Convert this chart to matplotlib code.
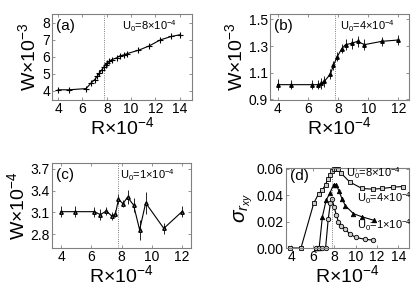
import matplotlib
matplotlib.use('Agg')
import matplotlib.pyplot as plt

plt.rcParams['font.family'] = ['Liberation Sans', 'DejaVu Sans']
plt.rcParams['mathtext.fontset'] = 'custom'
plt.rcParams['mathtext.rm'] = 'Liberation Sans'
plt.rcParams['mathtext.it'] = 'Liberation Sans:italic'

# panel (a): U0 = 8e-4
ra = [4.0, 4.9, 6.3, 6.7, 7.0, 7.2, 7.4, 7.6, 7.75, 7.9, 8.05, 8.2, 8.4, 8.8, 9.1, 9.4, 9.7, 10.6, 11.5, 12.4, 13.3, 14.0]
wa = [4.05, 4.05, 4.12, 4.44, 4.64, 4.83, 5.03, 5.23, 5.38, 5.52, 5.62, 5.72, 5.82, 5.92, 6.05, 6.1, 6.18, 6.37, 6.63, 6.98, 7.18, 7.28]
ea = [0.1] * len(ra)

# panel (b): U0 = 4e-4
rb = [4.0, 4.9, 6.3, 6.7, 6.9, 7.1, 7.5, 7.7, 7.95, 8.25, 8.5, 8.9, 9.3, 9.75, 10.9, 12.0]
wb = [1.01, 1.01, 1.01, 1.01, 1.02, 1.035, 1.09, 1.155, 1.22, 1.28, 1.31, 1.32, 1.335, 1.31, 1.335, 1.345]
eb = [0.04, 0.035, 0.035, 0.035, 0.04, 0.04, 0.035, 0.035, 0.035, 0.035, 0.04, 0.04, 0.04, 0.04, 0.035, 0.035]

# panel (c): U0 = 1e-4
rc = [4.0, 4.9, 6.2, 6.6, 7.0, 7.35, 7.6, 7.8, 8.1, 8.4, 8.8, 9.2, 9.6, 10.8, 12.0]
wc = [3.11, 3.11, 3.11, 3.07, 3.12, 3.05, 3.08, 3.28, 3.22, 3.31, 3.20, 2.86, 3.23, 2.88, 3.11]
ec = [0.08, 0.08, 0.07, 0.07, 0.05, 0.05, 0.05, 0.07, 0.05, 0.1, 0.1, 0.14, 0.15, 0.08, 0.08]

# panel (d): sigma_rxy for the three U0
rd8 = [3.9, 4.9, 6.1, 6.55, 6.9, 7.2, 7.4, 7.65, 7.8, 8.0, 8.2, 8.4, 8.6, 9.45, 10.6, 11.6, 12.5, 13.5, 14.4]
sd8 = [0, 0, 0.034, 0.041, 0.044, 0.048, 0.052, 0.055, 0.058, 0.060, 0.060, 0.060, 0.057, 0.050, 0.045, 0.0445, 0.045, 0.046, 0.0465]
rd4 = [6.3, 6.6, 6.9, 7.25, 7.6, 7.95, 8.2, 8.45, 8.75, 9.05, 9.8, 10.6, 11.7]
sd4 = [0, 0, 0.0236, 0.036, 0.0415, 0.048, 0.048, 0.043, 0.037, 0.032, 0.026, 0.0236, 0.021]
rd1 = [6.3, 6.6, 6.9, 7.2, 7.45, 7.65, 7.8, 8.0, 8.2, 8.4, 8.65, 9.05, 9.45, 10.05, 10.85, 11.6]
sd1 = [0, 0, 0, 0, 0.022, 0.034, 0.037, 0.031, 0.025, 0.020, 0.017, 0.0145, 0.0105, 0.008, 0.0066, 0.006]

R_crit = 7.8
W, H = 415, 291


def px_axes(fig, l, t, r, b):
    return fig.add_axes([l / W, 1 - b / H, (r - l) / W, (b - t) / H])


def style(ax):
    for s in ax.spines.values():
        s.set_color('#808080')
        s.set_linewidth(0.8)
    ax.tick_params(direction='in', length=2.5, width=0.6, color='#808080',
                   top=True, right=True, labelsize=10, pad=1.5)
    ax.axvline(R_crit, color='#555555', lw=0.6, ls=':')


fig = plt.figure(figsize=(W / 100, H / 100), dpi=100)

ax = px_axes(fig, 52, 14, 192, 100)
ax.errorbar(ra, wa, yerr=ea, color='k', lw=0.8, elinewidth=0.6, capsize=0,
            marker='+', ms=4, mew=0.8)
ax.set_xlim(3.5, 15)
ax.set_ylim(3.45, 8.5)
ax.set_xticks([4, 6, 8, 10, 12, 14])
ax.set_yticks([4, 5, 6, 7, 8])
ax.set_xlabel(r'R$\times$10$^{-4}$', fontsize=14, labelpad=0)
ax.set_ylabel(r'W$\times$10$^{-3}$', fontsize=14, labelpad=2)
ax.text(0.03, 0.86, '(a)', transform=ax.transAxes, fontsize=11, va='center')
ax.text(0.5, 0.86, r'U$_0$=8$\times$10$^{-4}$', transform=ax.transAxes, fontsize=8, va='center')
style(ax)

ax = px_axes(fig, 270, 14, 409, 100)
ax.errorbar(rb, wb, yerr=eb, color='k', lw=0.8, elinewidth=0.6, capsize=0,
            marker='^', ms=2.5)
ax.set_xlim(3.5, 12.7)
ax.set_ylim(0.895, 1.54)
ax.set_xticks([4, 6, 8, 10, 12])
ax.set_yticks([0.9, 1.1, 1.3, 1.5])
ax.set_xlabel(r'R$\times$10$^{-4}$', fontsize=14, labelpad=0)
ax.set_ylabel(r'W$\times$10$^{-3}$', fontsize=14, labelpad=2)
ax.text(0.03, 0.86, '(b)', transform=ax.transAxes, fontsize=11, va='center')
ax.text(0.5, 0.86, r'U$_0$=4$\times$10$^{-4}$', transform=ax.transAxes, fontsize=8, va='center')
style(ax)

ax = px_axes(fig, 52, 163, 191, 248)
ax.errorbar(rc, wc, yerr=ec, color='k', lw=0.8, elinewidth=0.6, capsize=0,
            marker='^', ms=2.5, mfc='#bbbbbb')
ax.set_xlim(3.4, 12.6)
ax.set_ylim(2.61, 3.78)
ax.set_xticks([4, 6, 8, 10, 12])
ax.set_yticks([2.8, 3.1, 3.4, 3.7])
ax.set_xlabel(r'R$\times$10$^{-4}$', fontsize=14, labelpad=0)
ax.set_ylabel(r'W$\times$10$^{-4}$', fontsize=14, labelpad=2)
ax.text(0.03, 0.86, '(c)', transform=ax.transAxes, fontsize=11, va='center')
ax.text(0.49, 0.86, r'U$_0$=1$\times$10$^{-4}$', transform=ax.transAxes, fontsize=8, va='center')
style(ax)

ax = px_axes(fig, 286, 168, 409, 248)
ax.plot(rd8, sd8, color='k', lw=0.8, marker='s', ms=3.2, mfc='#cccccc', mew=0.6, clip_on=False)
ax.plot(rd4, sd4, color='k', lw=0.8, marker='^', ms=3.2, mew=0.6, clip_on=False)
ax.plot(rd1, sd1, color='k', lw=0.8, marker='o', ms=3.2, mfc='#cccccc', mew=0.6, clip_on=False)
ax.set_xlim(3.5, 15)
ax.set_ylim(0, 0.0605)
ax.set_xticks([4, 6, 8, 10, 12, 14])
ax.set_yticks([0.0, 0.02, 0.04, 0.06])
ax.set_yticklabels(['0.00', '0.02', '0.04', '0.06'])
ax.set_xlabel(r'R$\times$10$^{-4}$', fontsize=14, labelpad=0)
ax.set_ylabel(r'$\sigma_{r_{xy}}$', fontsize=15, labelpad=1)
ax.text(0.03, 0.9, '(d)', transform=ax.transAxes, fontsize=11, va='center')
ax.text(0.49, 0.93, r'U$_0$=8$\times$10$^{-4}$', transform=ax.transAxes, fontsize=8, va='center')
ax.text(0.575, 0.625, r'U$_0$=4$\times$10$^{-4}$', transform=ax.transAxes, fontsize=8, va='center')
ax.text(0.575, 0.29, r'U$_0$=1$\times$10$^{-4}$', transform=ax.transAxes, fontsize=8, va='center')
style(ax)

fig.savefig('out.png', dpi=100)
